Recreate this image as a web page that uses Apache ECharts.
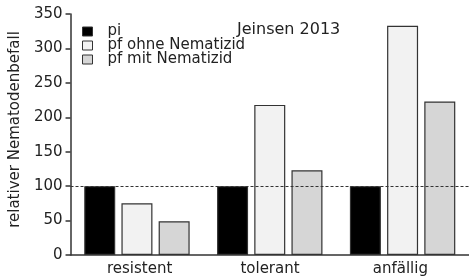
<!DOCTYPE html>
<html>
<head>
<meta charset="utf-8">
<script src="https://cdn.jsdelivr.net/npm/echarts@6/dist/echarts.min.js"></script>
<style>html,body{margin:0;padding:0;background:#fff;}#c{width:469px;height:279px;}</style>
</head>
<body>
<div id="c"></div>
<script>
const categories = ['resistent', 'tolerant', 'anfällig'];
const seriesNames = ['pi', 'pf ohne Nematizid', 'pf mit Nematizid'];
const piValues = [100, 100, 100];
const pfOhneValues = [75, 218, 333];
const pfMitValues = [49, 123, 223];
const yTicks = [0, 50, 100, 150, 200, 250, 300, 350];
const refLine = 100;

const font = 'DejaVu Sans';
const txt = '#222';
const colors = ['#000000', '#f2f2f2', '#d6d6d6'];
const values = [piValues, pfOhneValues, pfMitValues];

const chart = echarts.init(document.getElementById('c'), null, {renderer: 'canvas'});
chart.setOption({
  animation: false,
  backgroundColor: '#fff',
  textStyle: {fontFamily: font},
  title: {
    text: 'Jeinsen 2013', left: 237, top: 22, padding: 0,
    textStyle: {fontFamily: font, fontSize: 16, fontWeight: 'normal', color: txt}
  },
  legend: {
    orient: 'vertical', left: 82, top: 24, padding: 0,
    icon: 'rect',
    itemWidth: 10, itemHeight: 9, itemGap: -1,
    data: seriesNames,
    textStyle: {fontFamily: font, fontSize: 15, color: txt, lineHeight: 13, padding: [0, 0, 0, 10]},
    itemStyle: {borderColor: '#333', borderWidth: 1}
  },
  grid: [
    {left: 69, top: 14, width: 409, bottom: 24},
    {left: 74.5, top: 14, width: 391, bottom: 24}
  ],
  xAxis: [
    {
      type: 'category', data: categories, gridIndex: 0,
      axisLine: {lineStyle: {color: '#333', width: 1.5}},
      axisTick: {show: false},
      axisLabel: {show: false}
    },
    {
      type: 'category', data: categories, gridIndex: 1,
      axisLine: {show: false}, axisTick: {show: false},
      axisLabel: {fontFamily: font, fontSize: 15, color: txt, margin: 7}
    }
  ],
  yAxis: [
    {
      type: 'value', min: 0, max: 350, interval: 50, gridIndex: 0,
      name: 'relativer Nematodenbefall', nameLocation: 'middle', nameGap: 47,
      nameTextStyle: {fontFamily: font, fontSize: 15, color: txt, padding: [0, 0, 0, 10]},
      axisLine: {show: true, lineStyle: {color: '#333', width: 1.5}},
      axisTick: {show: true, length: 5, lineStyle: {color: '#333', width: 1.5}},
      axisLabel: {fontFamily: font, fontSize: 15, color: txt, margin: 8,
        formatter: v => yTicks.includes(v) ? String(v) : ''},
      splitLine: {show: false}
    },
    {type: 'value', min: 0, max: 350, gridIndex: 1, show: false}
  ],
  series: seriesNames.map((n, i) => ({
    name: n, type: 'bar', xAxisIndex: 0, yAxisIndex: 0,
    data: values[i], barWidth: 31, barGap: '20%',
    itemStyle: {color: colors[i], borderColor: '#333', borderWidth: 1.2},
    markLine: i === 0 ? {
      silent: true, symbol: 'none', label: {show: false},
      lineStyle: {color: '#333', type: [3, 2], width: 1},
      data: [{yAxis: refLine}]
    } : undefined
  }))
});
</script>
</body>
</html>
